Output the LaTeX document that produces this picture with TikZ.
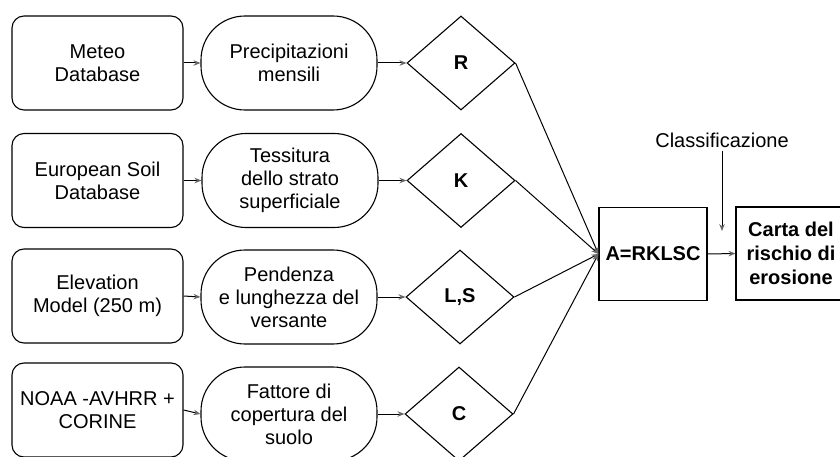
\documentclass[tikz,border=0pt]{standalone}
\usepackage{fontspec}
\setmainfont{Liberation Sans}
\usetikzlibrary{shapes.geometric,arrows.meta}

\tikzset{
  srcbox/.style={draw, rounded corners=12pt, minimum width=171pt, minimum height=94pt, align=center, line width=1.1pt},
  procbox/.style={draw, rounded corners=44pt, minimum width=176pt, minimum height=94pt, align=center, line width=1.1pt},
  factor/.style={draw, diamond, minimum width=108pt, minimum height=94pt, inner sep=0pt, font=\fontsize{20}{23}\selectfont\bfseries, line width=1.1pt},
  resbox/.style={draw, rectangle, minimum width=108pt, minimum height=93pt, align=center, font=\fontsize{20}{24}\selectfont\bfseries, line width=1.1pt},
  flow/.style={line width=1pt, -{Stealth[length=7pt,width=5.5pt,color=black!60]}},
}

\begin{document}
\begin{tikzpicture}[x=1pt, y=-1pt, font=\fontsize{20}{23}\selectfont]
\useasboundingbox (0,0) rectangle (840,457);

% sorgenti dei dati
\node[srcbox] (meteo) at (97.5,63) {Meteo\\Database};
\node[srcbox] (soil) at (97.5,180.5) {European Soil\\Database};
\node[srcbox] (dem) at (97.5,296) {Elevation\\Model (250 m)};
\node[srcbox] (noaa) at (97.5,410) {NOAA -AVHRR +\\CORINE};

% elaborazioni
\node[procbox] (prec) at (289,63) {Precipitazioni\\mensili};
\node[procbox] (tess) at (290,180.5) {Tessitura\\dello strato\\superficiale};
\node[procbox] (pend) at (289,297) {Pendenza\\e lunghezza del\\versante};
\node[procbox] (fatt) at (289,414) {Fattore di\\copertura del\\suolo};

% fattori
\node[factor] (R) at (461,63) {R};
\node[factor] (K) at (461,180.5) {K};
\node[factor] (LS) at (460,297) {L,S};
\node[factor] (C) at (459,414) {C};

% equazione e carta
\node[resbox] (usle) at (653,254) {A=RKLSC};
\node[resbox, minimum width=110pt] (carta) at (791,253.5) {Carta del\\rischio di\\erosione};
\node (classif) at (722,140) {Classificazione};
\coordinate (clend) at (722,231);

\draw[flow] (meteo.east) -- (prec.west);
\draw[flow] (soil.east) -- (tess.west);
\draw[flow] (dem.east) -- (pend.west);
\draw[flow] (noaa.east) -- (fatt.west);

\draw[flow] (prec.east) -- (R.west);
\draw[flow] (tess.east) -- (K.west);
\draw[flow] (pend.east) -- (LS.west);
\draw[flow] (fatt.east) -- (C.west);

\draw[flow] (R.east) -- (usle.west);
\draw[flow] (K.east) -- (usle.west);
\draw[flow] (LS.east) -- (usle.west);
\draw[flow] (C.east) -- (usle.west);

\draw[flow] (usle.east) -- (carta.west);
\draw[flow] (classif.south) -- (clend);

\end{tikzpicture}
\end{document}
